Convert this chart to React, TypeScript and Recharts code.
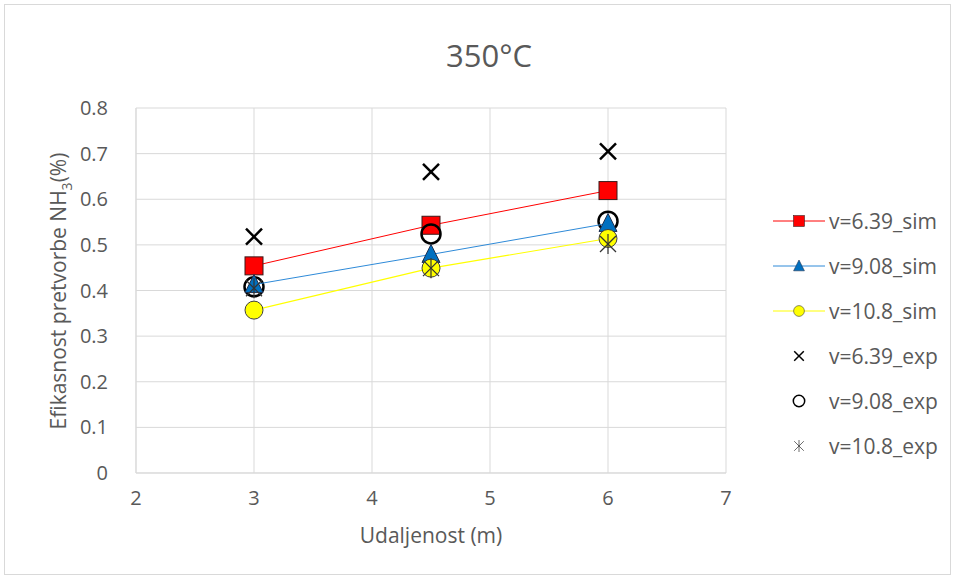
import { CartesianGrid, Scatter, ScatterChart, XAxis, YAxis } from "recharts";

const distances = [3, 4.5, 6];
const sim639 = [0.454, 0.543, 0.619];
const sim908 = [0.413, 0.479, 0.547];
const sim108 = [0.357, 0.449, 0.514];
const exp639 = [0.518, 0.66, 0.705];
const exp908 = [0.408, 0.524, 0.552];
const exp108 = [0.405, 0.449, 0.502];

const xTicks = [2, 3, 4, 5, 6, 7];
const yTicks = [0, 0.1, 0.2, 0.3, 0.4, 0.5, 0.6, 0.7, 0.8];

const toPoints = (ys: number[]) => distances.map((x, i) => ({ x, y: ys[i] }));

const font = "'Open Sans', 'Noto Sans', sans-serif";
const textColor = "#595959";

type MarkerKind = "square" | "triangle" | "circle" | "cross" | "ring" | "star";

function Marker({ kind, cx, cy, fill }: { kind: MarkerKind; cx: number; cy: number; fill?: string }) {
  switch (kind) {
    case "square":
      return <rect x={cx - 9} y={cy - 9} width={18} height={18} fill={fill} stroke="#3a1a1a" strokeWidth={1} />;
    case "triangle":
      return (
        <polygon
          points={`${cx},${cy - 10} ${cx + 9},${cy + 8} ${cx - 9},${cy + 8}`}
          fill={fill}
          stroke="#1f3050"
          strokeWidth={1}
        />
      );
    case "circle":
      return <circle cx={cx} cy={cy} r={9} fill={fill} stroke="#404040" strokeWidth={1} />;
    case "cross":
      return (
        <g stroke="#000" strokeWidth={2.5}>
          <line x1={cx - 8} y1={cy - 8} x2={cx + 8} y2={cy + 8} />
          <line x1={cx - 8} y1={cy + 8} x2={cx + 8} y2={cy - 8} />
        </g>
      );
    case "ring":
      return <circle cx={cx} cy={cy} r={9.5} fill="none" stroke="#000" strokeWidth={2.5} />;
    case "star":
      return (
        <g stroke="#333" strokeWidth={1.2}>
          <line x1={cx - 8} y1={cy - 8} x2={cx + 8} y2={cy + 8} />
          <line x1={cx - 8} y1={cy + 8} x2={cx + 8} y2={cy - 8} />
          <line x1={cx} y1={cy - 10} x2={cx} y2={cy + 10} />
        </g>
      );
  }
}

const legendItems: { name: string; kind: MarkerKind; fill?: string; line?: string }[] = [
  { name: "v=6.39_sim", kind: "square", fill: "#ff0000", line: "#ff0000" },
  { name: "v=9.08_sim", kind: "triangle", fill: "#0070c0", line: "#2e8ad8" },
  { name: "v=10.8_sim", kind: "circle", fill: "#ffff00", line: "#ffff00" },
  { name: "v=6.39_exp", kind: "cross" },
  { name: "v=9.08_exp", kind: "ring" },
  { name: "v=10.8_exp", kind: "star" },
];

function ChartLegend() {
  return (
    <div style={{ position: "absolute", left: 772, top: 198, width: 183 }}>
      {legendItems.map((item) => (
        <div key={item.name} style={{ display: "flex", alignItems: "center", height: 45 }}>
          <svg width={54} height={24}>
            {item.line && <line x1={1} y1={12} x2={53} y2={12} stroke={item.line} strokeWidth={1} />}
            <g transform="translate(27,12) scale(0.6) translate(-27,-12)">
              <Marker kind={item.kind} cx={27} cy={12} fill={item.fill} />
            </g>
          </svg>
          <span style={{ fontFamily: font, fontSize: 21, color: textColor, marginLeft: 3 }}>{item.name}</span>
        </div>
      ))}
    </div>
  );
}

function YLabel() {
  return (
    <text
      transform="translate(66,291) rotate(-90)"
      textAnchor="middle"
      fontFamily={font}
      fontSize={21}
      fill={textColor}
    >
      Efikasnost pretvorbe NH
      <tspan fontSize={14} dy={6}>3</tspan>
      <tspan dy={-6}>(%)</tspan>
    </text>
  );
}

export default function App() {
  const tick = { fill: textColor, fontSize: 20, fontFamily: font };
  return (
    <div style={{ position: "absolute", left: 0, top: 0, width: 955, height: 579, background: "#fff" }}>
      <div
        style={{
          position: "absolute",
          left: 4,
          top: 4,
          width: 945,
          height: 569,
          border: "1px solid #d9d9d9",
          pointerEvents: "none",
        }}
      />
      <div
        style={{
          position: "absolute",
          top: 34,
          left: 0,
          width: 978,
          textAlign: "center",
          fontFamily: font,
          fontSize: 31,
          color: textColor,
        }}
      >
        350°C
      </div>
      <ScatterChart width={955} height={579} margin={{ top: 108, right: 229, bottom: 76, left: 76 }}>
        <CartesianGrid stroke="#d9d9d9" />
        <XAxis
          type="number"
          dataKey="x"
          domain={[2, 7]}
          ticks={xTicks}
          interval={0}
          stroke="#d9d9d9"
          tickLine={false}
          tick={tick}
          tickMargin={12}
          height={30}
          label={{ value: "Udaljenost (m)", position: "insideBottom", offset: -40, fill: textColor, fontSize: 21, fontFamily: font }}
        />
        <YAxis
          type="number"
          dataKey="y"
          domain={[0, 0.8]}
          ticks={yTicks}
          interval={0}
          stroke="#d9d9d9"
          tickLine={false}
          tick={tick}
          tickMargin={22}
          width={60}
          label={<YLabel />}
        />
        <Scatter
          data={toPoints(exp639)}
          isAnimationActive={false}
          shape={(p: any) => <Marker kind="cross" cx={p.cx} cy={p.cy} />}
        />
        <Scatter
          data={toPoints(sim639)}
          isAnimationActive={false}
          line={{ stroke: "#ff0000", strokeWidth: 1 }}
          shape={(p: any) => <Marker kind="square" cx={p.cx} cy={p.cy} fill="#ff0000" />}
        />
        <Scatter
          data={toPoints(exp908)}
          isAnimationActive={false}
          shape={(p: any) => <Marker kind="ring" cx={p.cx} cy={p.cy} />}
        />
        <Scatter
          data={toPoints(sim908)}
          isAnimationActive={false}
          line={{ stroke: "#2e8ad8", strokeWidth: 1 }}
          shape={(p: any) => <Marker kind="triangle" cx={p.cx} cy={p.cy} fill="#0070c0" />}
        />
        <Scatter
          data={toPoints(sim108)}
          isAnimationActive={false}
          line={{ stroke: "#ffff00", strokeWidth: 1.2 }}
          shape={(p: any) => <Marker kind="circle" cx={p.cx} cy={p.cy} fill="#ffff00" />}
        />
        <Scatter
          data={toPoints(exp108)}
          isAnimationActive={false}
          shape={(p: any) => <Marker kind="star" cx={p.cx} cy={p.cy} />}
        />
      </ScatterChart>
      <ChartLegend />
    </div>
  );
}
